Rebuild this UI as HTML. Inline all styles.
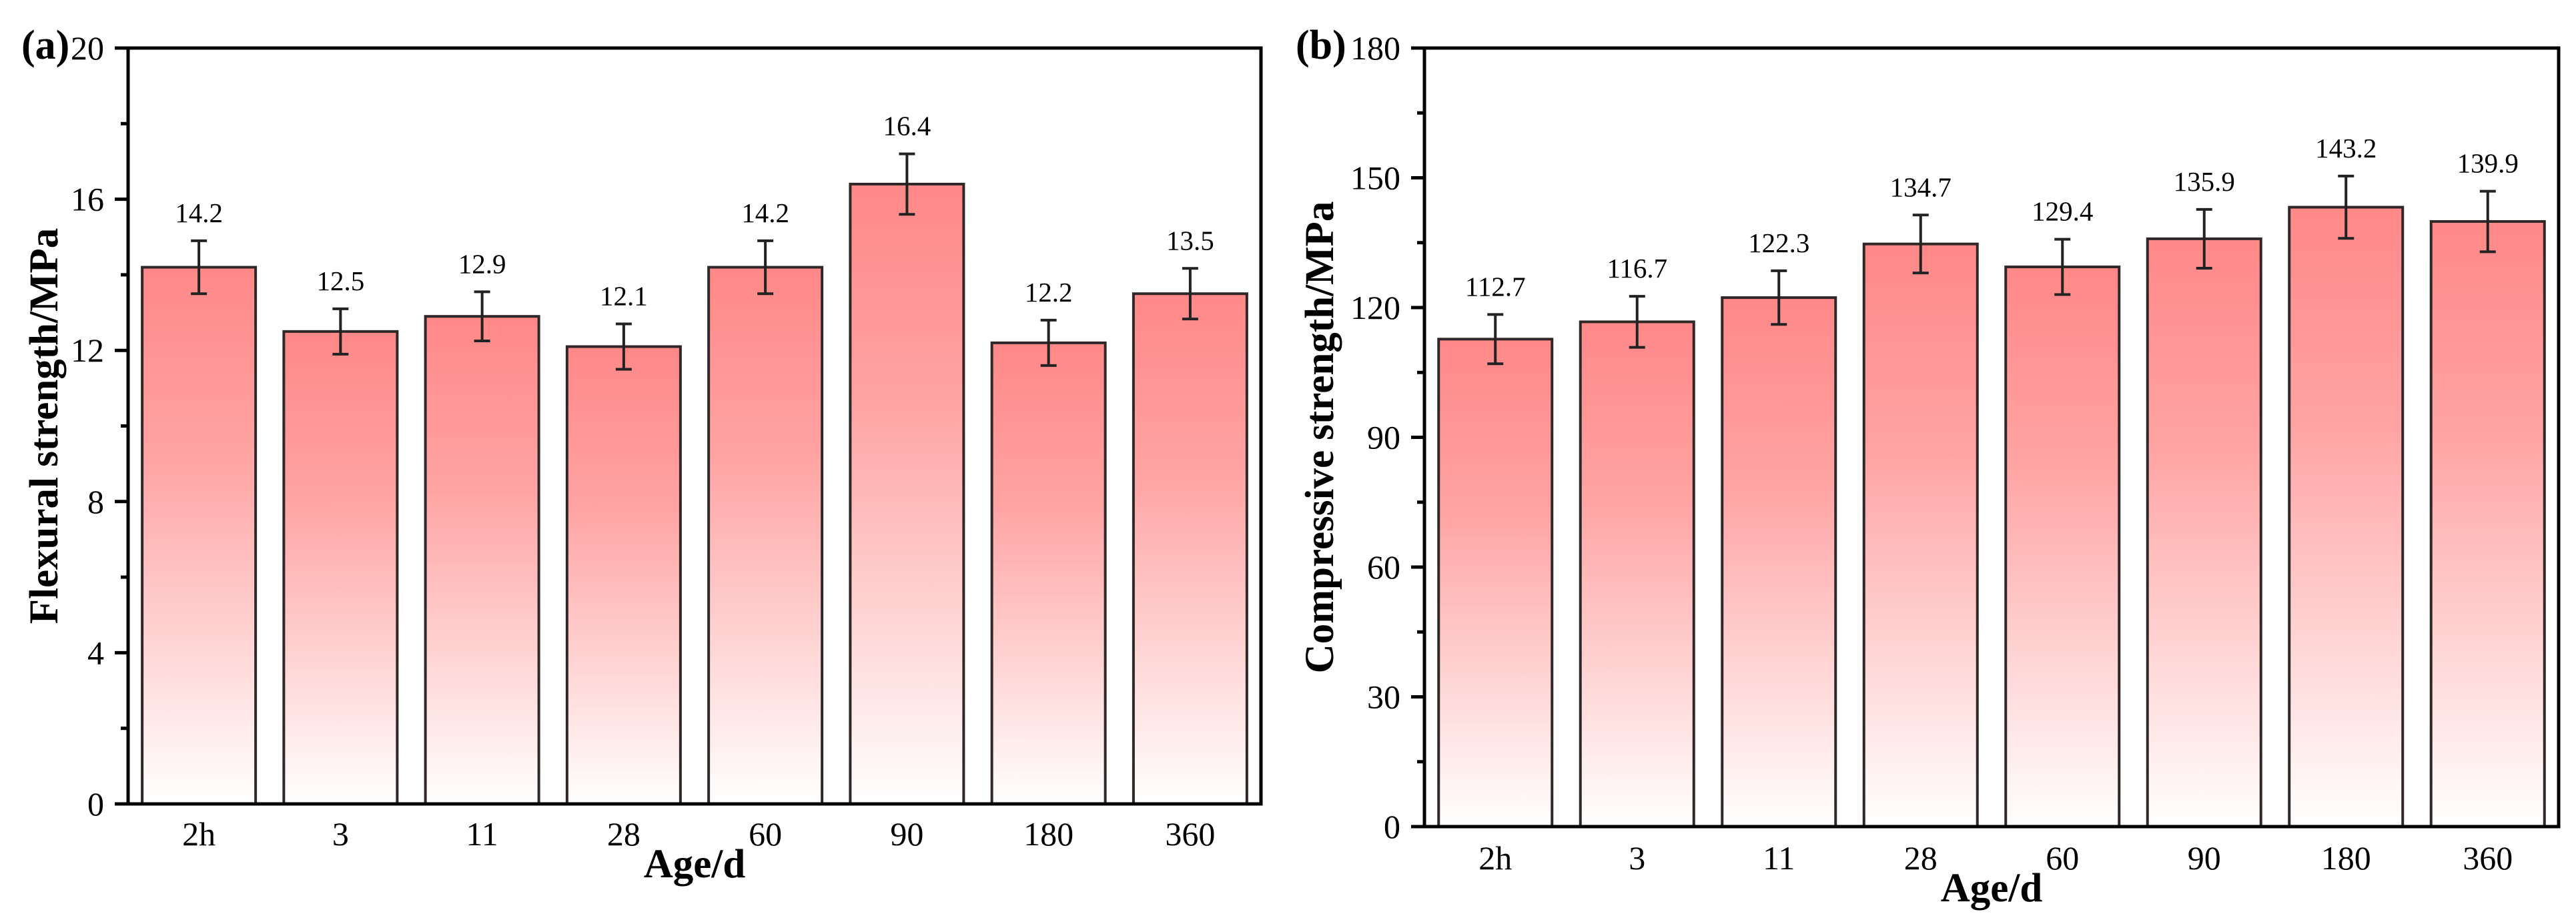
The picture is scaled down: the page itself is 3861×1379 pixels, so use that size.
<!DOCTYPE html>
<html><head><meta charset="utf-8"><style>
html,body{margin:0;padding:0;background:#fff;}
svg{display:block;font-family:"Liberation Serif",serif;}
</style></head><body>
<svg id="chart" width="3861" height="1379" viewBox="0 0 3861 1379" xmlns="http://www.w3.org/2000/svg">
<defs>
<linearGradient id="barGrad" x1="0" y1="0" x2="0" y2="1">
<stop offset="0" stop-color="#ff8888"/>
<stop offset="0.35" stop-color="#ffa3a3"/>
<stop offset="1" stop-color="#ffffff"/>
</linearGradient>
</defs>
</svg>
<script>
const categories = ["2h","3","11","28","60","90","180","360"];
const flexValues = [14.2,12.5,12.9,12.1,14.2,16.4,12.2,13.5];
const flexErrors = [0.7,0.6,0.65,0.6,0.7,0.8,0.6,0.67];
const flexTicks = [0,4,8,12,16,20];
const compValues = [112.7,116.7,122.3,134.7,129.4,135.9,143.2,139.9];
const compErrors = [5.7,5.9,6.2,6.7,6.4,6.8,7.2,7.0];
const compTicks = [0,30,60,90,120,150,180];

const NS = "http://www.w3.org/2000/svg";
const svg = document.getElementById("chart");
function mk(tag, attrs, parent, text){
  const e = document.createElementNS(NS, tag);
  for (const k in attrs) e.setAttribute(k, attrs[k]);
  if (text !== undefined) e.textContent = text;
  (parent || svg).appendChild(e);
  return e;
}

function panel(opt){
  const g = mk("g", {});
  
  
  const L = opt.left, R = opt.right, T = opt.top, B = opt.bottom;
  const yMax = opt.ticks[opt.ticks.length-1];
  const y = v => B - (v / yMax) * (B - T);
  const pitch = (R - L) / opt.cats.length;
  const x = i => L + pitch * (i + 0.5);
  const bw = 170;

  opt.cats.forEach((c, i) => {
    const v = opt.values[i], e = opt.errors[i];
    const r = mk("rect", {x: x(i) - bw/2, y: y(v), width: bw, height: B - y(v), fill: "url(#barGrad)", stroke: "#302828", "stroke-width": 4}, g);
    
    
    const eg = mk("g", {stroke: "#222", "stroke-width": 4}, g);
    
    
    mk("line", {x1: x(i), x2: x(i), y1: y(v + e), y2: y(v - e)}, eg);
    mk("line", {x1: x(i) - 12, x2: x(i) + 12, y1: y(v + e), y2: y(v + e)}, eg);
    mk("line", {x1: x(i) - 12, x2: x(i) + 12, y1: y(v - e), y2: y(v - e)}, eg);
    const t = mk("text", {x: x(i), y: y(v + e) - 28, "text-anchor": "middle", "font-size": 41, fill: "#000"}, g, v.toFixed(1));
    
    
    const xl = mk("text", {x: x(i), y: B + opt.tickLabDy, "text-anchor": "middle", "font-size": 50, fill: "#000"}, g, c);
    
    
  });

  const fr = mk("rect", {x: L, y: T, width: R - L, height: B - T, fill: "none", stroke: "#000", "stroke-width": 5}, g);
  
  

  const step = opt.ticks[1] - opt.ticks[0];
  opt.ticks.forEach((tv, k) => {
    mk("line", {x1: L - 20, x2: L, y1: y(tv), y2: y(tv), stroke: "#000", "stroke-width": 5}, g);
    const tl = mk("text", {x: L - 36, y: y(tv) + 17, "text-anchor": "end", "font-size": 50, fill: "#000"}, g, String(tv));
    
    
    if (k < opt.ticks.length - 1) {
      mk("line", {x1: L - 11, x2: L, y1: y(tv + step/2), y2: y(tv + step/2), stroke: "#000", "stroke-width": 5}, g);
    }
  });

  const yt = mk("text", {x: 0, y: 0, transform: `translate(${opt.yTitleX},${(T+B)/2}) rotate(-90)`, "text-anchor": "middle", "font-size": 61, "font-weight": "bold", fill: "#000"}, g, opt.yTitle);
  
  
  const xt = mk("text", {x: (L+R)/2, y: B + opt.tickLabDy + 48, "text-anchor": "middle", "font-size": 61, "font-weight": "bold", fill: "#000"}, g, "Age/d");
  
  
  const pl = mk("text", {x: opt.labelX, y: T + 16, "font-size": 62, "font-weight": "bold", fill: "#000"}, g, opt.label);
  
  
}

panel({name: "flexural-panel", left: 192, right: 1890, top: 72, bottom: 1205, ticks: flexTicks,
  cats: categories, values: flexValues, errors: flexErrors, yTitle: "Flexural strength/MPa",
  yTitleX: 86, tickLabDy: 62, label: "(a)", labelX: 32});
panel({name: "compressive-panel", left: 2135, right: 3835, top: 72, bottom: 1239, ticks: compTicks,
  cats: categories, values: compValues, errors: compErrors, yTitle: "Compressive strength/MPa",
  yTitleX: 1998, tickLabDy: 64, label: "(b)", labelX: 1942});
</script>
</body></html>
